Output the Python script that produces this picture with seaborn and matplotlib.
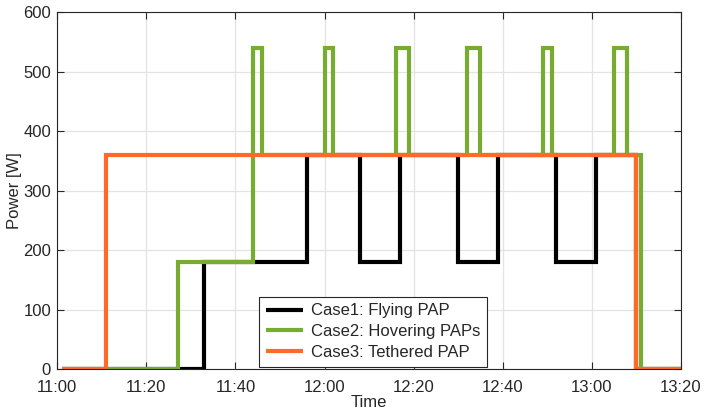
import matplotlib
matplotlib.use("Agg")
import matplotlib.pyplot as plt
import seaborn as sns

# minutes after 11:00 where each series changes level, and the new level [W]
case1_t = [1, 33, 56, 68, 77, 90, 99, 112, 121, 130, 140]
case1_p = [0, 180, 360, 180, 360, 180, 360, 180, 360, 0, 0]

case2_t = [1, 27, 44, 46, 60, 62, 76, 79, 92, 95, 109, 111, 125, 128, 131, 140]
case2_p = [0, 180, 540, 360, 540, 360, 540, 360, 540, 360, 540, 360, 540, 360, 0, 0]

case3_t = [1, 11, 130, 140]
case3_p = [0, 360, 0, 0]

labels = ["Case1: Flying PAP", "Case2: Hovering PAPs", "Case3: Tethered PAP"]
colors = ["#000000", "#77AC30", "#FF6A2A"]

tick_pos = [0, 20, 40, 60, 80, 100, 120, 140]
tick_labels = ["11:00", "11:20", "11:40", "12:00", "12:20", "12:40", "13:00", "13:20"]

sns.set_theme(style="whitegrid")
plt.rcParams['font.family'] = ['Liberation Sans', 'DejaVu Sans']
plt.rcParams['font.size'] = 12

fig = plt.figure(figsize=(7.04, 4.11), dpi=100)
ax = fig.add_axes([0.0814, 0.1015, 0.8856, 0.8685])

for t, p, lab, c in zip([case1_t, case2_t, case3_t], [case1_p, case2_p, case3_p], labels, colors):
    sns.lineplot(x=t, y=p, ax=ax, color=c, label=lab, drawstyle='steps-post',
                 estimator=None, linewidth=3, solid_capstyle='butt', solid_joinstyle='miter')

ax.set_xlim(0, 140)
ax.set_ylim(0, 600)
ax.set_xticks(tick_pos)
ax.set_xticklabels(tick_labels)
ax.set_yticks([0, 100, 200, 300, 400, 500, 600])

ax.grid(True, color="#e3e3e3", linewidth=0.9)
ax.set_axisbelow(True)
for s in ax.spines.values():
    s.set_visible(True)
    s.set_color("#262626")
    s.set_linewidth(0.8)
ax.tick_params(axis='both', direction='in', length=5, width=0.8, color="#262626",
               labelcolor="#262626", labelsize=12, top=True, right=True, bottom=True, left=True)
ax.tick_params(axis='x', pad=8)
ax.tick_params(axis='y', pad=4.5)

ax.set_xlabel("Time", fontsize=12, color="#262626", labelpad=0)
ax.set_ylabel("Power [W]", fontsize=12, color="#262626", labelpad=0.5)

leg = ax.legend(loc='lower left', bbox_to_anchor=(0.324, 0.007), borderaxespad=0,
                fontsize=12, handlelength=2.2, handletextpad=0.5, labelspacing=0.35,
                borderpad=0.4, fancybox=False, framealpha=1, edgecolor="#262626")
leg.get_frame().set_linewidth(0.8)

fig.savefig("out.png", dpi=100)
